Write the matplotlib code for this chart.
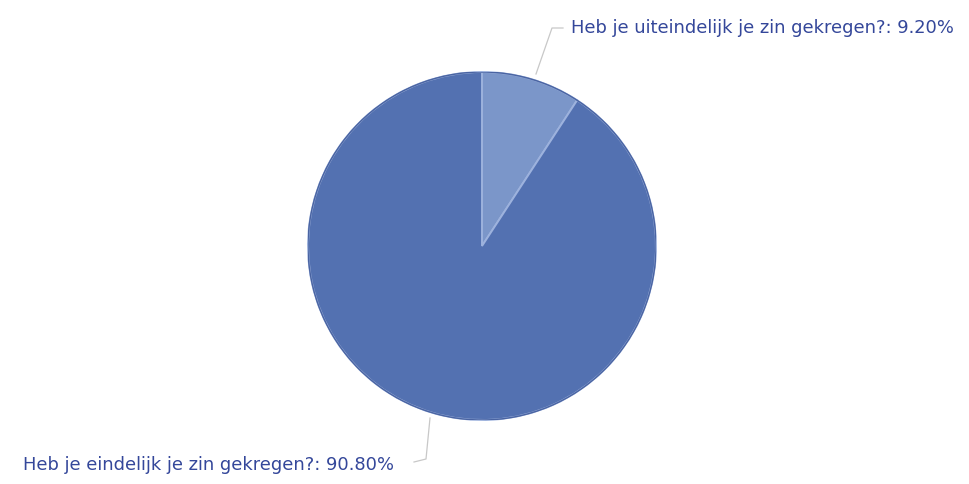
import matplotlib.pyplot as plt

# answers and their share
labels = ['Heb je uiteindelijk je zin gekregen?', 'Heb je eindelijk je zin gekregen?']
shares = [9.20, 90.80]
colors = ['#7b96c9', '#5371b1']

W, H = 970, 484
fig = plt.figure(figsize=(W / 100, H / 100), dpi=100)

# pie centre and radius in pixels
cx, cy, r = 482, 246, 174
ax = fig.add_axes([(cx - r) / W, (H - cy - r) / H, 2 * r / W, 2 * r / H])
ax.axis('off')

ax.pie(shares, colors=colors, startangle=90, counterclock=False,
       wedgeprops=dict(edgecolor='#9db2dd', linewidth=1.4))
ax.set_xlim(-1, 1)
ax.set_ylim(-1, 1)
ax.add_patch(plt.Circle((0, 0), 1.0, fill=False, ec='#4a64a2', lw=1.0))


def px(x, y):
    return x / W, 1 - y / H


txt_kw = dict(fontsize=12.9, color='#34479a', family='DejaVu Sans')
line_kw = dict(color='#c8c8c8', lw=0.9)

# small slice label (top right)
fig.add_artist(plt.Line2D(*zip(px(536, 74), px(552, 28), px(563, 28)),
                          transform=fig.transFigure, **line_kw))
fig.text(*px(571, 28), f'{labels[0]}: {shares[0]:.2f}%', ha='left', va='center', **txt_kw)

# big slice label (bottom left)
fig.add_artist(plt.Line2D(*zip(px(430, 418), px(426, 459), px(414, 462)),
                          transform=fig.transFigure, **line_kw))
fig.text(*px(394, 465), f'{labels[1]}: {shares[1]:.2f}%', ha='right', va='center', **txt_kw)

fig.savefig('out.png', dpi=100, facecolor='white')
